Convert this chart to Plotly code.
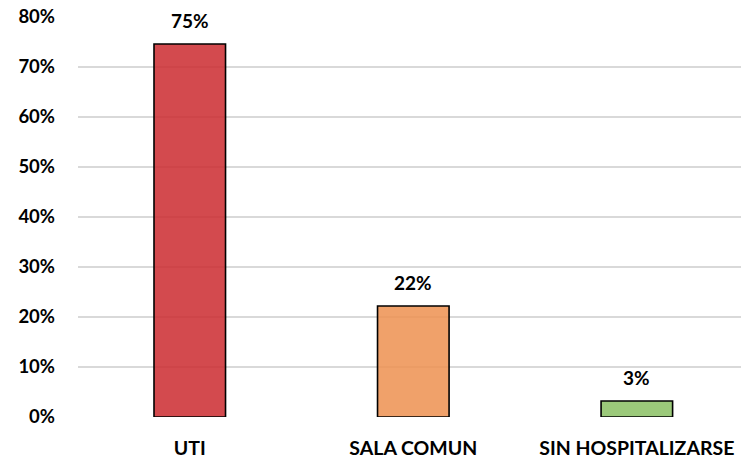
import plotly.graph_objects as go

categories = ["UTI", "SALA COMUN", "SIN HOSPITALIZARSE"]
values = [0.746, 0.222, 0.032]
colors = ["rgba(203,42,47,0.85)", "rgba(237,145,80,0.85)", "rgba(137,192,99,0.85)"]
y_ticks = [0, 0.1, 0.2, 0.3, 0.4, 0.5, 0.6, 0.7, 0.8]

FONT = "Lato"

fig = go.Figure()
fig.add_trace(go.Bar(
    x=categories, y=values, width=0.32,
    marker=dict(color=colors, line=dict(color="black", width=1.6)),
    hoverinfo="skip",
))

for c, v in zip(categories, values):
    fig.add_annotation(x=c, y=v, text=f"{round(v*100)}%", showarrow=False,
                       yshift=24, yanchor="middle", xanchor="center",
                       font=dict(family=FONT, size=19, color="black", weight="bold"))

fig.update_layout(
    width=741, height=459,
    margin=dict(l=78, r=0, t=17, b=42),
    paper_bgcolor="white", plot_bgcolor="white",
    showlegend=False,
    font=dict(family=FONT, size=18, color="black"),
)
fig.update_xaxes(
    range=[-0.5, 2.466], showgrid=False, showline=False, zeroline=False,
    automargin=False, ticks="", ticklabelstandoff=17,
    tickfont=dict(family=FONT, size=19.5, color="black", weight="bold"),
)
fig.update_yaxes(
    range=[0, 0.8], tickvals=y_ticks, tickformat=".0%",
    showgrid=True, gridcolor="#d9d9d9", gridwidth=1.6,
    zeroline=False, showline=False, automargin=False, ticks="",
    ticklabelstandoff=22, ticklabeloverflow="allow",
    tickfont=dict(family=FONT, size=18.5, color="black", weight="bold"),
)

fig.write_html("out.html", config={"displayModeBar": False},
               post_script="document.body.style.margin='0';")
